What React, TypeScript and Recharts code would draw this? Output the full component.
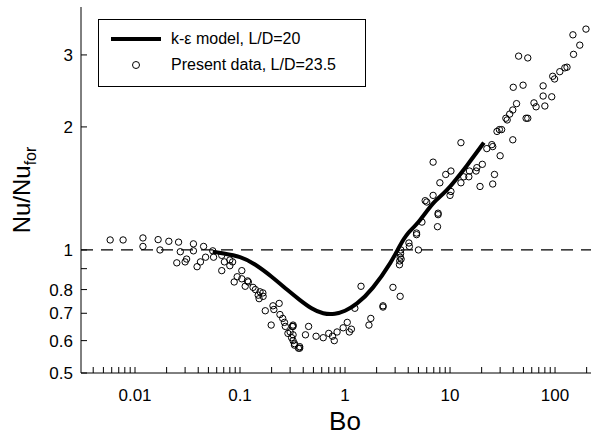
import { ComposedChart, Scatter, Line, XAxis, YAxis, ReferenceLine } from "recharts"

const dataBo = [
  0.0058, 0.0077, 0.0119, 0.0119, 0.0166, 0.0173, 0.021, 0.025, 0.026, 0.027, 0.03, 0.031, 0.036, 0.036, 0.039,
  0.042, 0.045, 0.047, 0.055, 0.056, 0.067, 0.067, 0.071, 0.08, 0.08, 0.085, 0.088, 0.094, 0.104, 0.104, 0.112,
  0.118, 0.12, 0.133, 0.14, 0.149, 0.152, 0.155, 0.165, 0.166, 0.174, 0.198, 0.206, 0.21, 0.236, 0.24, 0.255,
  0.265, 0.27, 0.286, 0.3, 0.315, 0.32, 0.31, 0.32, 0.33, 0.36, 0.32, 0.32, 0.33, 0.37, 0.37, 0.42, 0.45, 0.53,
  0.62, 0.7, 0.76, 0.79, 0.84, 0.96, 1.05, 1.1, 1.15, 1.24, 1.42, 1.69, 1.76, 2.3, 2.3, 2.86, 3.35, 3.3, 3.32,
  3.35, 3.38, 3.4, 3.42, 4.06, 4.1, 4.8, 4.8, 5.0, 5.4, 6.0, 7.7, 7.6, 5.8, 6.9, 6.9, 7.7, 8.0, 9.1, 10.2, 10.2,
  10.0, 12.7, 12.7, 13.5, 15.1, 15.3, 17.7, 18, 19.3, 20.3, 22.4, 25, 25.5, 25.5, 26.5, 30, 28, 29.5, 31, 39.6,
  34, 35, 37, 39.6, 43, 40, 49.6, 45, 55, 53, 55, 63, 66, 77, 77, 80, 93, 95, 99, 111, 124, 130, 150, 172, 148, 197,
]
const dataNu = [
  1.058, 1.058, 1.07, 1.02, 1.06, 1.0, 1.05, 0.93, 1.045, 0.99, 0.935, 0.95, 1.035, 0.995, 0.91,
  0.935, 1.02, 0.96, 0.995, 0.96, 0.97, 0.89, 0.935, 0.945, 0.915, 0.935, 0.835, 0.86, 0.89, 0.85, 0.815,
  0.84, 0.835, 0.81, 0.8, 0.775, 0.76, 0.79, 0.785, 0.77, 0.71, 0.655, 0.73, 0.715, 0.74, 0.695, 0.68,
  0.665, 0.65, 0.625, 0.63, 0.65, 0.655, 0.61, 0.6, 0.585, 0.575, 0.65, 0.62, 0.59, 0.575, 0.58, 0.62, 0.65, 0.615,
  0.61, 0.625, 0.615, 0.6, 0.63, 0.645, 0.665, 0.63, 0.64, 0.72, 0.815, 0.655, 0.68, 0.725, 0.73, 0.81, 0.77, 0.92, 0.94,
  0.96, 0.98, 1.0, 0.95, 1.04, 1.02, 1.09, 1.1, 1.0, 1.17, 1.31, 1.22, 1.14, 1.32, 1.64, 1.36, 1.23, 1.46, 1.53, 1.56, 1.39,
  1.36, 1.83, 1.46, 1.51, 1.51, 1.56, 1.56, 1.59, 1.43, 1.62, 1.77, 1.81, 1.79, 1.45, 1.53, 1.7, 1.95, 1.97, 1.97, 1.86,
  2.1, 2.08, 2.15, 2.2, 2.28, 2.5, 2.53, 2.98, 2.95, 2.1, 2.1, 2.29, 2.24, 2.52, 2.38, 2.25, 2.37, 2.66, 2.62, 2.73, 2.79, 2.8, 3.01, 3.17, 3.36, 3.47,
]

const modelBo = [0.055, 0.07, 0.1, 0.14, 0.2, 0.28, 0.37, 0.48, 0.62, 0.8, 1.0, 1.3, 1.85, 2.7, 3.3, 4.0, 5.0, 6.9, 9.3, 14.5, 21]
const modelNu = [0.99, 0.98, 0.96, 0.92, 0.86, 0.8, 0.755, 0.72, 0.7, 0.698, 0.71, 0.74, 0.81, 0.93, 1.02, 1.1, 1.17, 1.3, 1.4, 1.61, 1.83]

const xTicks = [0.004, 0.005, 0.006, 0.007, 0.008, 0.009, 0.01, 0.02, 0.03, 0.04, 0.05, 0.06, 0.07, 0.08, 0.09, 0.1,
  0.2, 0.3, 0.4, 0.5, 0.6, 0.7, 0.8, 0.9, 1, 2, 3, 4, 5, 6, 7, 8, 9, 10, 20, 30, 40, 50, 60, 70, 80, 90, 100, 200]
const xLabels = [0.01, 0.1, 1, 10, 100]
const yTicks = [0.5, 0.6, 0.7, 0.8, 0.9, 1, 2, 3]
const yLabels = [0.5, 0.6, 0.7, 0.8, 1, 2, 3]

const points = dataBo.map((x, i) => ({ x, y: dataNu[i] }))
const model = modelBo.map((x, i) => ({ x, y: modelNu[i] }))

const font = "'Liberation Sans', Arial, sans-serif"
const tickStyle = { fontSize: 17, fill: "#000", fontFamily: font }

export default function App() {
  return (
    <div style={{ position: "absolute", left: 0, top: 0, width: 596, height: 441, background: "#fff" }}>
      <ComposedChart width={596} height={441} margin={{ top: 7, right: 5, left: 21, bottom: 28 }}>
        <XAxis
          xAxisId="b"
          dataKey="x"
          type="number"
          scale="log"
          domain={[0.00306, 220]}
          ticks={xTicks}
          interval={0}
          tickFormatter={(v) => (xLabels.includes(v) ? String(v) : "")}
          tickSize={-6}
          tickMargin={22}
          tick={tickStyle}
          stroke="#000"
          allowDataOverflow
          height={40}
        />
        <XAxis xAxisId="t" orientation="top" type="number" scale="log" domain={[0.00306, 220]} ticks={xTicks}
          interval={0} tick={false} tickSize={-6} stroke="#000" allowDataOverflow height={0} />
        <YAxis
          yAxisId="l"
          dataKey="y"
          type="number"
          scale="log"
          domain={[0.5, 3.93]}
          ticks={yTicks}
          interval={0}
          tickFormatter={(v) => (yLabels.includes(v) ? String(v) : "")}
          tickSize={-6}
          tickMargin={14}
          tick={tickStyle}
          stroke="#000"
          allowDataOverflow
          width={60}
        />
        <YAxis yAxisId="r" orientation="right" type="number" scale="log" domain={[0.5, 3.93]} ticks={yTicks}
          interval={0} tick={false} tickSize={-6} stroke="#000" allowDataOverflow width={0} />
        <ReferenceLine xAxisId="b" yAxisId="l" y={1} stroke="#000" strokeWidth={1.3} strokeDasharray="12 8" />
        <Scatter xAxisId="b" yAxisId="l" data={points} isAnimationActive={false}
          shape={(p: any) => <circle cx={p.cx} cy={p.cy} r={3.2} fill="none" stroke="#000" strokeWidth={1} />} />
        <Line xAxisId="b" yAxisId="l" data={model} dataKey="y" type="natural" stroke="#000" strokeWidth={4}
          dot={false} isAnimationActive={false} />
        <text x={345} y={430} textAnchor="middle" fontSize={26} fontFamily={font}>Bo</text>
        <text transform="translate(30,190) rotate(-90)" textAnchor="middle" fontSize={24} fontFamily={font}>
          Nu/Nu<tspan fontSize={16} dy={6}>for</tspan>
        </text>
      </ComposedChart>
      <div style={{ position: "absolute", left: 98, top: 19, width: 268, height: 68, border: "1.5px solid #000",
        background: "#fff", fontFamily: font, fontSize: 16, boxSizing: "border-box" }}>
        <div style={{ position: "absolute", left: 12, top: 10, display: "flex", alignItems: "center" }}>
          <div style={{ width: 50, height: 4, background: "#000", marginRight: 10 }} />k-ε model, L/D=20
        </div>
        <div style={{ position: "absolute", left: 12, top: 36, display: "flex", alignItems: "center" }}>
          <div style={{ width: 50, display: "flex", justifyContent: "center", marginRight: 10 }}>
            <div style={{ width: 6, height: 6, borderRadius: "50%", border: "1px solid #000" }} />
          </div>Present data, L/D=23.5
        </div>
      </div>
    </div>
  )
}
